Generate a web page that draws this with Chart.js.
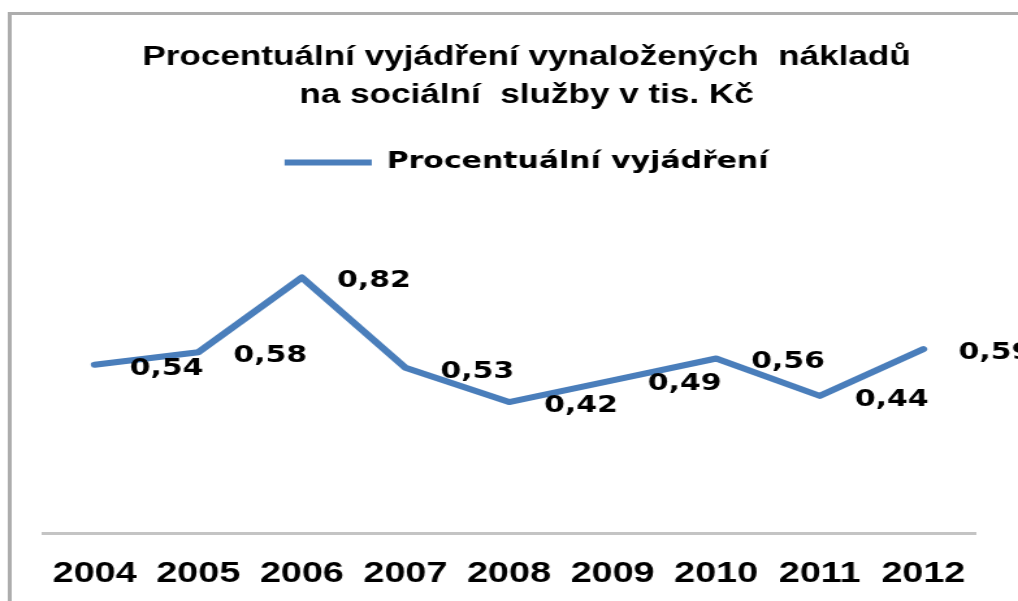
<!DOCTYPE html>
<html><head><meta charset="utf-8">
<script src="https://cdn.jsdelivr.net/npm/chart.js@4.4.1/dist/chart.umd.min.js"></script>
<style>
html,body{margin:0;padding:0;background:#fff;overflow:hidden;}
#wrap{width:783px;height:601px;transform:scaleX(1.30013);transform-origin:0 0;}
canvas{display:block;}
</style></head><body>
<div id="wrap"><canvas id="c" width="783" height="601"></canvas></div>
<script>
const categories = ['2004','2005','2006','2007','2008','2009','2010','2011','2012'];
const seriesName = 'Procentuální vyjádření';
const values = [0.54, 0.58, 0.82, 0.53, 0.42, 0.49, 0.56, 0.44, 0.59];
const titleLines = ['Procentuální vyjádření vynaložených  nákladů', 'na sociální  služby v tis. Kč'];

const lineColor = '#4A7EBB';

const framePlugin = {
  id: 'frame',
  beforeDraw(chart) {
    const ctx = chart.ctx;
    ctx.save();
    ctx.fillStyle = '#fff';
    ctx.fillRect(0, 0, chart.width, chart.height);
    ctx.strokeStyle = '#adadad';
    ctx.lineWidth = 3;
    ctx.strokeRect(7.5, 13.5, chart.width + 40, chart.height + 40);
    ctx.restore();
  }
};

const labelPlugin = {
  id: 'valueLabels',
  afterDatasetsDraw(chart) {
    const ctx = chart.ctx;
    const meta = chart.getDatasetMeta(0);
    const data = chart.data.datasets[0].data;
    ctx.save();
    ctx.font = 'bold 23px "DejaVu Sans"';
    ctx.fillStyle = '#000';
    ctx.textAlign = 'left';
    ctx.textBaseline = 'middle';
    meta.data.forEach((pt, i) => {
      ctx.fillText(data[i].toFixed(2).replace('.', ','), pt.x + 27, pt.y + 4);
    });
    ctx.restore();
  }
};

new Chart(document.getElementById('c').getContext('2d'), {
  type: 'line',
  data: {
    labels: categories,
    datasets: [{
      label: seriesName,
      data: values,
      borderColor: lineColor,
      backgroundColor: lineColor,
      borderWidth: 6,
      pointRadius: 0,
      pointHoverRadius: 0,
      tension: 0,
      borderCapStyle: 'round',
      borderJoinStyle: 'round',
      fill: false
    }]
  },
  options: {
    responsive: false,
    animation: false,
    devicePixelRatio: 1,
    layout: { padding: { top: 0, left: 33, right: 6, bottom: 0 } },
    plugins: {
      title: {
        display: true,
        text: titleLines,
        color: '#000',
        font: { family: '"Liberation Sans", Arial, sans-serif', size: 27, weight: 'bold', lineHeight: 1.407 },
        padding: { top: 39, bottom: 24 }
      },
      legend: {
        display: true,
        position: 'top',
        labels: {
          usePointStyle: true,
          pointStyle: 'line',
          pointStyleWidth: 67,
          padding: 12,
          color: '#000',
          font: { family: '"DejaVu Sans", sans-serif', size: 23, weight: 'bold' }
        }
      },
      tooltip: { enabled: false }
    },
    scales: {
      x: {
        offset: true,
        grid: { display: false, drawTicks: false },
        border: { display: true, color: '#c4c4c4', width: 3 },
        ticks: {
          color: '#000',
          padding: 24,
          maxRotation: 0,
          autoSkip: false,
          font: { family: '"Liberation Sans", Arial, sans-serif', size: 29, weight: 'bold' }
        },
        afterFit(scale) { scale.height = 68; }
      },
      y: {
        position: 'right',
        min: 0,
        max: 1.12,
        grid: { display: false },
        border: { display: false },
        ticks: { display: false },
        afterFit(scale) { scale.width = 27; }
      }
    }
  },
  plugins: [framePlugin, labelPlugin]
});
</script>
</body></html>
